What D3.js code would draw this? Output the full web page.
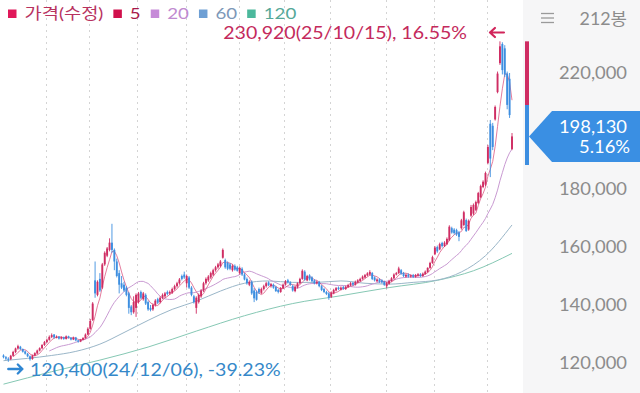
<!DOCTYPE html>
<html><head><meta charset="utf-8">
<script src="https://cdn.jsdelivr.net/npm/d3@7"></script>
<style>
html,body{margin:0;padding:0;background:#fff;}
svg{display:block;font-family:Lato,'Noto Sans CJK KR','Noto Sans',sans-serif;}
</style></head><body>
<svg id="c" width="640" height="393"></svg>
<script>
// ---- DATA (prices in thousands of won, one entry per daily candle, 212 candles) ----
const openK = [122.6,122.0,121.5,121.3,122.5,123.8,125.0,125.6,124.8,124.0,123.2,122.3,121.4,122.6,123.3,124.3,125.1,126.2,
127.2,128.0,129.0,129.8,128.8,129.1,128.4,128.9,128.3,129.2,128.7,128.1,128.8,127.8,127.4,128.0,128.6,129.8,
131.8,134.8,148.5,143.5,149.0,146.0,154.0,157.0,159.0,161.5,159.0,155.0,151.0,147.5,147.0,146.0,144.0,139.5,137.5,139.0,
141.0,144.5,142.0,143.5,141.0,139.0,138.5,140.0,142.0,141.0,142.5,143.0,144.5,144.0,144.2,145.5,146.5,147.5,150.0,150.5,147.5,149.5,146.0,143.0,
139.0,141.0,143.0,145.0,147.5,148.5,149.5,150.5,152.0,153.0,153.5,156.3,155.5,154.5,154.0,152.0,153.5,153.0,151.0,152.5,150.5,149.0,147.0,148.0,145.0,144.5,
145.5,144.2,145.5,146.5,147.8,146.5,147.0,146.2,145.2,144.5,145.8,147.0,148.5,147.8,146.5,144.8,146.0,147.5,149.0,151.5,148.5,150.2,149.5,148.5,147.5,148.0,146.5,145.5,144.5,144.0,
142.8,144.0,145.0,146.0,145.3,146.2,145.5,146.2,146.8,147.6,147.0,147.8,148.3,149.0,149.5,150.2,150.5,151.0,149.5,148.2,148.8,148.5,148.0,146.5,147.3,148.3,149.2,150.5,151.0,152.0,151.0,149.8,150.5,149.8,150.3,149.7,150.1,150.6,150.0,150.7,151.4,152.8,
154.5,157.5,160.0,159.2,161.4,160.3,161.0,162.4,166.5,166.0,165.8,165.0,166.5,167.6,169.3,166.0,170.8,171.5,172.8,175.2,177.2,180.7,181.5,189.0,202.5,201.8,204.0,213.4,223.4,230.0,228.5,219.8,218.0,193.8];
const highK = [123.0,122.4,122.0,122.8,124.2,125.3,126.3,125.9,125.0,124.3,123.5,122.6,122.9,123.7,124.6,125.4,126.5,127.6,
128.4,129.5,130.2,130.0,129.5,129.3,129.2,129.1,129.5,129.4,128.9,129.1,129.0,128.0,128.3,128.9,130.2,132.3,
135.2,141.0,155.0,148.5,151.0,154.5,158.5,160.0,163.0,168.0,159.5,156.0,152.0,150.0,148.0,146.5,144.5,140.0,143.0,144.0,
144.5,145.0,144.5,144.0,141.5,140.0,140.5,142.0,142.5,143.0,144.0,144.5,145.0,145.0,146.0,147.0,148.0,149.3,150.5,151.5,150.5,150.0,146.5,143.5,
143.0,144.0,145.5,148.0,149.5,150.3,151.5,152.5,153.5,154.5,155.5,159.5,156.0,155.0,154.5,154.0,154.0,153.5,153.3,153.0,151.0,149.5,148.5,148.5,145.8,145.0,
146.0,146.0,147.0,148.0,148.2,147.6,147.4,146.6,145.6,146.2,147.4,148.6,149.0,148.2,147.0,146.6,147.8,149.4,152.3,152.0,150.4,150.6,149.9,148.9,148.4,148.3,146.9,145.9,144.9,144.4,
144.7,145.6,146.2,146.4,146.4,146.6,146.7,147.3,147.9,148.0,148.4,148.9,149.4,150.2,150.7,151.3,152.0,151.4,149.9,149.2,149.2,148.9,148.4,147.9,148.7,149.6,150.9,151.4,153.2,152.4,151.4,150.8,150.9,150.6,150.7,150.7,151.0,151.0,151.2,151.9,153.0,154.9,
157.0,160.3,160.5,161.5,161.8,162.0,163.3,167.5,167.0,166.5,166.3,165.5,169.7,172.5,169.8,169.5,174.5,175.0,176.0,179.0,181.5,183.0,186.0,195.2,203.8,202.8,208.8,220.5,230.92,230.6,229.6,220.5,220.0,199.3];
const lowK = [121.6,121.0,120.4,121.0,122.2,123.4,124.6,124.5,123.6,122.9,122.0,120.8,121.1,122.3,123.0,124.0,124.8,125.9,
126.9,127.7,128.6,128.4,128.5,128.1,128.1,128.0,128.1,128.4,127.8,127.9,127.5,127.0,127.2,127.8,128.4,129.6,
131.5,134.5,142.5,143.0,144.5,145.5,153.5,156.5,158.5,158.0,152.0,149.5,144.0,145.5,144.5,143.0,137.0,136.5,137.0,135.9,
140.5,142.0,141.5,140.0,138.0,137.8,138.0,139.5,140.3,140.5,142.0,142.5,143.3,143.5,143.8,145.0,146.0,147.0,148.5,149.0,146.0,145.5,143.0,140.5,
137.0,140.5,142.5,144.5,147.0,148.0,149.0,150.0,151.5,152.5,153.0,156.0,152.5,152.0,152.0,151.5,151.8,151.5,150.5,150.0,148.5,147.0,146.5,143.5,141.0,141.5,
143.8,143.8,145.0,146.0,146.5,146.0,145.6,144.5,144.0,144.2,145.5,146.7,147.4,146.6,144.6,144.4,145.7,147.2,148.7,148.4,148.2,148.4,147.8,147.1,147.1,146.1,144.8,144.1,143.4,141.8,
142.4,143.7,144.7,145.1,145.0,145.2,145.2,145.9,146.5,146.6,146.7,147.5,148.0,148.7,149.2,149.9,150.2,148.6,148.1,147.9,147.6,147.4,146.6,145.8,147.0,148.0,148.9,150.2,150.7,150.4,149.6,149.4,149.4,149.4,149.3,149.4,149.8,149.6,149.7,150.4,151.1,152.5,
154.2,157.2,158.0,158.9,159.8,160.0,160.7,162.0,164.6,164.3,163.8,162.0,166.0,167.2,165.2,165.6,170.4,171.0,172.4,174.8,176.8,180.3,181.0,188.5,184.1,193.4,203.6,213.0,222.8,219.5,218.6,207.5,204.5,193.4];
const closeK = [122.0,121.5,121.2,122.5,123.8,125.0,125.8,124.8,123.9,123.2,122.3,121.3,122.6,123.4,124.3,125.1,126.2,127.2,
128.0,129.0,129.6,128.8,129.1,128.4,128.9,128.3,129.2,128.7,128.1,128.8,127.8,127.4,128.0,128.6,129.8,131.8,
134.5,140.5,144.0,148.0,145.0,154.0,158.0,159.5,161.5,159.0,155.0,150.0,147.0,146.0,145.0,143.5,139.0,137.5,141.0,143.5,
144.0,142.5,144.0,140.5,138.5,138.3,140.0,141.5,140.8,142.5,143.5,144.0,143.8,144.5,145.5,146.5,147.5,148.8,149.0,149.5,150.0,146.0,143.5,141.0,
142.5,143.5,145.0,147.5,149.0,149.8,151.0,152.0,153.0,154.0,155.0,159.0,153.0,152.5,152.5,153.5,152.2,151.8,152.8,150.5,148.8,147.5,148.0,144.0,142.3,141.8,
144.3,145.5,146.5,147.5,146.8,147.2,146.0,144.8,144.5,145.8,147.0,148.2,147.8,147.0,145.0,146.3,147.5,149.0,151.8,148.8,150.0,148.8,148.2,147.5,148.0,146.5,145.2,144.5,143.8,142.5,
144.3,145.2,145.8,145.5,146.0,145.6,146.3,146.9,147.5,147.0,148.0,148.5,149.0,149.8,150.3,150.9,151.4,149.0,148.5,148.8,148.0,147.8,147.0,147.5,148.3,149.2,150.5,151.0,152.6,150.8,150.0,150.4,149.8,150.2,149.7,150.3,150.6,150.0,150.8,151.5,152.8,154.5,
156.5,159.8,158.5,161.0,160.3,161.5,162.8,167.0,165.0,164.8,164.3,163.5,169.2,172.0,165.5,169.0,173.8,174.5,175.5,178.6,181.0,182.5,185.5,194.5,190.5,194.5,208.3,219.8,229.2,221.0,219.5,209.0,205.5,198.13];

const ma60Idx = [0,10,20,30,40,50,60,70,80,90,100,110,120,130,140,150,160,170,180,190,200,211];
const ma60Val = [120.8,121.6,122.6,124.0,126.5,130.5,134.7,138.5,141.3,144.8,147.5,148.3,147.8,147.8,148.3,147.5,147.2,147.8,148.6,151.4,157.0,167.6];
const ma120Idx = [0,20,40,60,80,100,120,140,160,180,195,211];
const ma120Val = [112.7,117.0,121.0,125.5,131.0,136.3,140.5,143.2,146.0,148.5,151.8,157.8];

const yTicks = [120000,140000,160000,180000,200000,220000];
const monthStartIdx = [18,36,56,76,98,117,136,159,179,201];
const legendLabels = ["가격(수정)","5","20","60","120"];
const candleCount = "212봉";
const lastPrice = 198130;
const lastPct = "5.16%";
const hiIdx = 206, hiText = "230,920(25/10/15), 16.55%";
const loIdx = 2, loText = "120,400(24/12/06), -39.23%";

// ---- styles ----
const W = 640, H = 393;
const UP = "#cf2d63", DOWN = "#3d8ee0";
const legendSq = ["#e0185a","#d0104c","#c68ad8","#6e9fd4","#4cb89c"];
const legendTx = ["#b8325f","#a8184a","#c08ad0","#7d98b8","#55a898"];
const maColors = {m5:"#d9507c", m20:"#c99ad2", m60:"#9ab6c8", m120:"#86c8b4"};
const FS = 17;          // base font size
const SX = 1.13;        // horizontal stretch of the reference's lettering

const data = closeK.map((c,i)=>({i, o:openK[i]*1000, h:highK[i]*1000, l:lowK[i]*1000, c:c*1000}));

const svg = d3.select("#c");
const x = d3.scaleLinear().domain([0, data.length-1]).range([3.5, 512]);
const y = d3.scaleLinear().domain([120000, 220000]).range([363, 73]);

function sText(parent, tx, ty, str, opt){
  const o = Object.assign({anchor:"start", size:FS, fill:"#888", sx:SX}, opt||{});
  const t = parent.append("text")
    .attr("transform",`translate(${tx},${ty}) scale(${o.sx},1)`)
    .attr("dy","0.36em").attr("text-anchor",o.anchor)
    .attr("font-size",o.size).attr("fill",o.fill).text(str);
  return t;
}

svg.append("rect").attr("width",W).attr("height",H).attr("fill","#fff");
// right panel
svg.append("rect").attr("x",523).attr("y",0).attr("width",W-523).attr("height",H).attr("fill","#f6f6f7");

// vertical dashed month grid
svg.append("g").selectAll("line").data(monthStartIdx).join("line")
  .attr("x1",d=>Math.round(x(d))-0.5).attr("x2",d=>Math.round(x(d))-0.5)
  .attr("y1",0).attr("y2",H)
  .attr("stroke","#d4d4d4").attr("stroke-width",1).attr("stroke-dasharray","2,4");

// current price position (tag hides the tick label under it)
const py = y(lastPrice);

// y labels
const gy = svg.append("g");
yTicks.filter(d=>Math.abs(y(d)-py)>30).forEach(d=>{
  sText(gy, 627, y(d), d3.format(",")(d), {anchor:"end", fill:"#8c8c8c", sx:1.08});
});

// moving averages
function sma(n){
  const out=[];
  for(let i=n-1;i<data.length;i++){
    out.push({i, v:d3.mean(data.slice(i-n+1,i+1),d=>d.c)});
  }
  return out;
}
const ma5 = sma(5), ma20 = sma(20);
const ma60 = ma60Idx.map((d,k)=>({i:d, v:ma60Val[k]*1000}));
const ma120 = ma120Idx.map((d,k)=>({i:d, v:ma120Val[k]*1000}));
const lineStraight = d3.line().x(d=>x(d.i)).y(d=>y(d.v));
const lineSmooth = d3.line().x(d=>x(d.i)).y(d=>y(d.v)).curve(d3.curveMonotoneX);
const gl = svg.append("g").attr("fill","none").attr("stroke-width",1);
gl.append("path").attr("d",lineSmooth(ma120)).attr("stroke",maColors.m120);
gl.append("path").attr("d",lineSmooth(ma60)).attr("stroke",maColors.m60);
gl.append("path").attr("d",lineStraight(ma20)).attr("stroke",maColors.m20);
gl.append("path").attr("d",lineStraight(ma5)).attr("stroke",maColors.m5).attr("stroke-opacity",0.75);

// candles
const gc = svg.append("g");
const bw = 1.9;
gc.selectAll("line.w").data(data).join("line").attr("class","w")
  .attr("x1",d=>x(d.i)).attr("x2",d=>x(d.i))
  .attr("y1",d=>y(d.h)).attr("y2",d=>y(d.l))
  .attr("stroke",d=>d.c>=d.o?UP:DOWN).attr("stroke-width",0.9);
gc.selectAll("rect.b").data(data).join("rect").attr("class","b")
  .attr("x",d=>x(d.i)-bw/2).attr("width",bw)
  .attr("y",d=>y(Math.max(d.o,d.c)))
  .attr("height",d=>Math.max(1.2,Math.abs(y(d.o)-y(d.c))))
  .attr("fill",d=>d.c>=d.o?UP:DOWN);

// legend
const lg = svg.append("g");
let lx = 8;
legendLabels.forEach((t,k)=>{
  lg.append("rect").attr("x",lx).attr("y",9.5).attr("width",8.5).attr("height",8.5).attr("fill",legendSq[k]);
  const tx = sText(lg, lx+16.5, 13.5, t, {fill:legendTx[k], size:16, sx:1.17});
  lx = lx + 16.5 + tx.node().getComputedTextLength()*1.17 + 10;
});

// high annotation
const hiX = x(hiIdx);
sText(svg, 467, 33.5, hiText, {anchor:"end", fill:"#c42a5c", size:16.3, sx:1.2});
svg.append("path").attr("d",`M${hiX+4},32.5 H${hiX-10} M${hiX-5},28 L${hiX-10},32.5 L${hiX-5},37`)
  .attr("fill","none").attr("stroke","#d1245a").attr("stroke-width",2.2).attr("stroke-linecap","round").attr("stroke-linejoin","round");

// low annotation
const loX = x(loIdx);
svg.append("path").attr("d",`M${loX},369 H${loX+14} M${loX+9.5},364.5 L${loX+14},369 L${loX+9.5},373.5`)
  .attr("fill","none").attr("stroke","#2f86d2").attr("stroke-width",2.4).attr("stroke-linecap","round").attr("stroke-linejoin","round");
sText(svg, 30, 369.5, loText, {fill:"#3588c9", size:17.3});

// top-right controls
svg.append("g").selectAll("line").data([0,4.5,9]).join("line")
  .attr("x1",541).attr("x2",554).attr("y1",d=>13.5+d).attr("y2",d=>13.5+d)
  .attr("stroke","#9a9a9a").attr("stroke-width",1.3);
sText(svg, 627, 18.5, candleCount, {anchor:"end", fill:"#8c8c8c", sx:1.05});

// range bar at panel edge
svg.append("rect").attr("x",525).attr("y",y(highK[hiIdx]*1000)).attr("width",4)
  .attr("height",105-y(highK[hiIdx]*1000)).attr("fill",UP);
svg.append("rect").attr("x",525).attr("y",105).attr("width",4).attr("height",60).attr("fill",DOWN);

// current price tag
svg.append("path").attr("d",`M529,${py} L552,${py-25.5} H640 V${py+25.5} H552 Z`).attr("fill","#3a8fe3");
sText(svg, 627, py-10, d3.format(",")(lastPrice), {anchor:"end", fill:"#fff", sx:1.08});
sText(svg, 630, py+10.5, lastPct, {anchor:"end", fill:"#fff", sx:1.08});
</script></body></html>
